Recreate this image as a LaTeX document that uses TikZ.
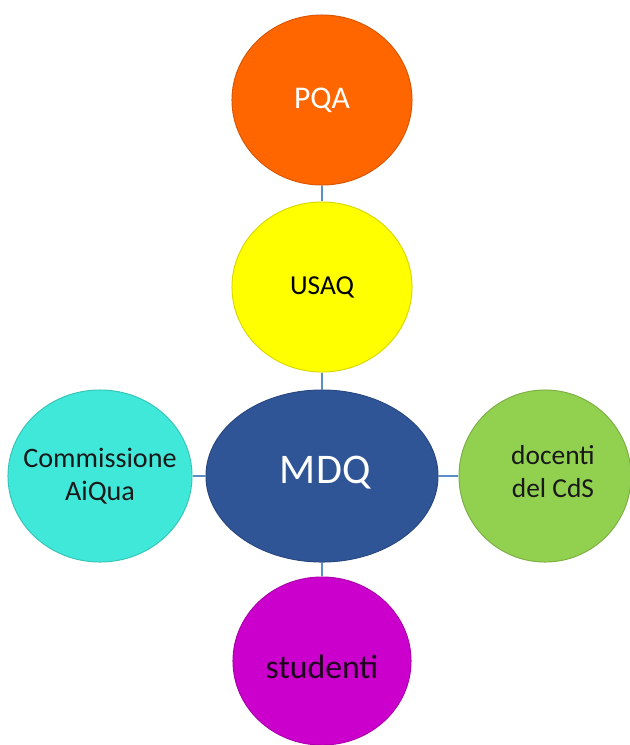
\documentclass[tikz,border=0pt]{standalone}
\usepackage{fontspec}
\setmainfont{Carlito}
\usetikzlibrary{shapes.geometric}
\definecolor{pqaorange}{HTML}{FF6600}
\definecolor{usaqyellow}{HTML}{FFFF00}
\definecolor{mdqblue}{HTML}{2F5597}
\definecolor{aiquacyan}{HTML}{40E8DA}
\definecolor{cdsgreen}{HTML}{92D050}
\definecolor{studmagenta}{HTML}{CC00CC}
\definecolor{linkblue}{HTML}{5B8EC6}
\begin{document}
\begin{tikzpicture}[x=0.025cm,y=-0.025cm,
  bubble/.style={ellipse,inner sep=0pt,fill=#1,draw=#1!85!black,line width=0.7pt},
  link/.style={draw=linkblue,line width=2pt}]
\useasboundingbox (0,0) rectangle (630,745);

\node[bubble=pqaorange,minimum width=4.5cm,minimum height=4.25cm,
  label={[text=white,font=\fontsize{22.5}{27}\selectfont]center:PQA}] (pqa) at (322,100) {};
\node[bubble=usaqyellow,minimum width=4.5cm,minimum height=4.25cm,
  label={[text=black,font=\fontsize{19.5}{23.5}\selectfont]center:USAQ}] (usaq) at (322,287) {};
\node[bubble=mdqblue,minimum width=5.8cm,minimum height=4.3cm,
  label={[text=white,xshift=0.08cm,yshift=0.08cm,font=\fontsize{30}{36}\selectfont]center:MDQ}] (mdq) at (322,476) {};
\node[bubble=aiquacyan,minimum width=4.6cm,minimum height=4.3cm,
  label={[text=black!90,align=center,font=\fontsize{20}{23.5}\selectfont]center:Commissione\\AiQua}] (aiqua) at (100,476) {};
\node[bubble=cdsgreen,minimum width=4.3cm,minimum height=4.3cm,
  label={[text=black!90,align=center,xshift=0.2cm,yshift=0.1cm,font=\fontsize{19.5}{23.5}\selectfont]center:docenti\\del CdS}] (cds) at (545,476) {};
\node[bubble=studmagenta,minimum width=4.45cm,minimum height=4.2cm,
  label={[text=black!85!studmagenta,yshift=-0.15cm,font=\fontsize{24}{29}\selectfont]center:studenti}] (stud) at (322,661) {};

\draw[link] (pqa) -- (usaq);
\draw[link] (usaq) -- (mdq);
\draw[link] (mdq) -- (stud);
\draw[link] (mdq) -- (aiqua);
\draw[link] (mdq) -- (cds);
\end{tikzpicture}
\end{document}
